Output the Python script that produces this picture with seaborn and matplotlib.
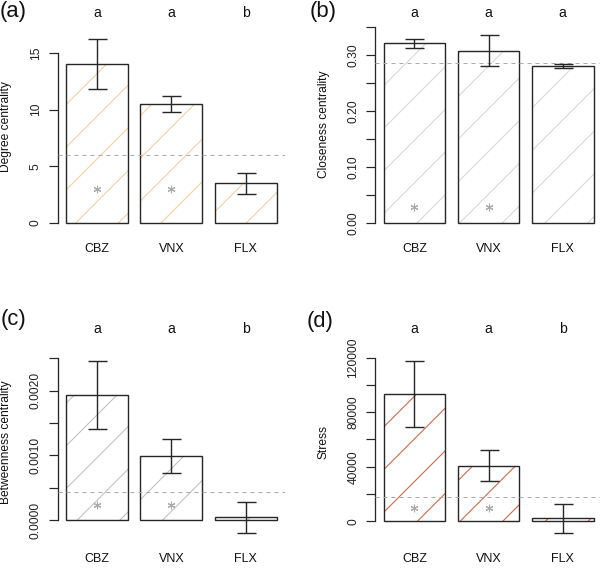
import numpy as np
import pandas as pd
import matplotlib
matplotlib.use("Agg")
import matplotlib.pyplot as plt
from matplotlib import transforms
import seaborn as sns

# ---------------- data ----------------
categories = ["CBZ", "VNX", "FLX"]

degree_mean = [14.0, 10.5, 3.5]
degree_err = [2.2, 0.67, 0.94]
degree_ref = 6.0
degree_letters = ["a", "a", "b"]
degree_star = [3.0, 3.0, np.nan]
degree_ticks = [0, 5, 10, 15]
degree_ticklabels = ["0", "5", "10", "15"]

closeness_mean = [0.321, 0.308, 0.280]
closeness_err = [0.008, 0.028, 0.004]
closeness_ref = 0.285
closeness_letters = ["a", "a", "a"]
closeness_star = [0.029, 0.029, np.nan]
closeness_ticks = [0.0, 0.05, 0.10, 0.15, 0.20, 0.25, 0.30, 0.35]
closeness_ticklabels = ["0.00", "", "0.10", "", "0.20", "", "0.30", ""]

betweenness_mean = [0.00193, 0.00099, 0.00004]
betweenness_err = [0.00053, 0.00027, 0.00024]
betweenness_ref = 0.00043
betweenness_letters = ["a", "a", "b"]
betweenness_star = [0.00023, 0.00023, np.nan]
betweenness_ticks = [0.0, 0.0005, 0.0010, 0.0015, 0.0020, 0.0025]
betweenness_ticklabels = ["0.0000", "", "0.0010", "", "0.0020", ""]

stress_mean = [93300, 40800, 2200]
stress_err = [24300, 11600, 10700]
stress_ref = 18000
stress_letters = ["a", "a", "b"]
stress_star = [9500, 9500, np.nan]
stress_ticks = [0, 20000, 40000, 60000, 80000, 100000, 120000]
stress_ticklabels = ["0", "", "40000", "", "80000", "", "120000"]

# ---------------- figure setup ----------------
DPI = 256
W, H = 600, 568
PT = 72.0 / DPI  # points per pixel


def px(v):
    return v * PT


def fy(v):
    return 1 - v / H


plt.rcParams["font.family"] = ["Liberation Sans", "DejaVu Sans"]
plt.rcParams["hatch.linewidth"] = px(1.1)

fig = plt.figure(figsize=(W / DPI, H / DPI), dpi=DPI)

panels = [
    dict(mean=degree_mean, err=degree_err, ref=degree_ref, letters=degree_letters,
         star=degree_star, ticks=degree_ticks, ticklabels=degree_ticklabels,
         ylabel="Degree centrality", tag="(a)", hatch_color="#f3d2a6",
         box=(57.6, 285.2, 25, 235), ylim=(-1.059, 17.475),
         letter_base=16.7, cat_base=252, tag_pos=(0, 16.5), ylabel_pos=(6, 126.7)),
    dict(mean=closeness_mean, err=closeness_err, ref=closeness_ref, letters=closeness_letters,
         star=closeness_star, ticks=closeness_ticks, ticklabels=closeness_ticklabels,
         ylabel="Closeness centrality", tag="(b)", hatch_color="#d9d9d9",
         box=(375.2, 602.0, 25, 235), ylim=(-0.0209, 0.3535),
         letter_base=16.7, cat_base=252, tag_pos=(310, 17.5), ylabel_pos=(324, 124)),
    dict(mean=betweenness_mean, err=betweenness_err, ref=betweenness_ref, letters=betweenness_letters,
         star=betweenness_star, ticks=betweenness_ticks, ticklabels=betweenness_ticklabels,
         ylabel="Betweenness centrality", tag="(c)", hatch_color="#c2c2c2",
         box=(57.6, 285.2, 340, 540), ylim=(-0.000309, 0.002783),
         letter_base=333.3, cat_base=562, tag_pos=(0.5, 325.5), ylabel_pos=(6, 442)),
    dict(mean=stress_mean, err=stress_err, ref=stress_ref, letters=stress_letters,
         star=stress_star, ticks=stress_ticks, ticklabels=stress_ticklabels,
         ylabel="Stress", tag="(d)", hatch_color="#d06a4a",
         box=(375.2, 602.0, 340, 540), ylim=(-13700, 132900),
         letter_base=333.3, cat_base=562, tag_pos=(306.5, 327), ylabel_pos=(324, 441.7)),
]

INK = "#262626"
BAR_W = 1 / 1.2
pos = np.arange(len(categories))

for p in panels:
    x0, x1, yt, yb = p["box"]
    ax = fig.add_axes([x0 / W, 1 - yb / H, (x1 - x0) / W, (yb - yt) / H])
    ax.set_facecolor("none")
    df = pd.DataFrame({"group": categories, "value": p["mean"]})

    # hatched fill layer
    sns.barplot(data=df, x="group", y="value", ax=ax, color="white", saturation=1,
                width=BAR_W, errorbar=None, edgecolor=p["hatch_color"], linewidth=0,
                hatch="//", zorder=1)
    # outline layer
    sns.barplot(data=df, x="group", y="value", ax=ax, fill=False, color=INK,
                width=BAR_W, errorbar=None, linewidth=px(1.4), zorder=2)

    # reference dashed line
    ax.axhline(p["ref"], color="#aaaaaa", lw=px(1.0), linestyle=(0, (4, 4)), zorder=3)

    # error bars
    ax.errorbar(pos, p["mean"], yerr=p["err"], fmt="none", ecolor=INK,
                elinewidth=px(1.4), capsize=px(9.5), capthick=px(1.4), zorder=4)

    # asterisks
    ax.plot(pos, p["star"], linestyle="none", marker=(6, 2, 0), ms=px(7.5),
            mew=px(1.1), mec="#aaaaaa", zorder=3)

    ax.set_xlim(-0.53, 2.53)
    ax.set_ylim(*p["ylim"])
    ax.set_xlabel("")
    ax.set_ylabel("")
    for s in ["top", "right", "bottom"]:
        ax.spines[s].set_visible(False)
    ax.spines["left"].set_bounds(0, p["ticks"][-1])
    ax.spines["left"].set_linewidth(px(1.3))
    ax.spines["left"].set_color(INK)
    ax.tick_params(axis="x", bottom=False, labelbottom=False)
    ax.set_yticks(p["ticks"])
    ax.set_yticklabels(p["ticklabels"])
    ax.tick_params(axis="y", length=px(9), width=px(1.2), pad=px(6.8),
                   labelsize=px(12), colors=INK, labelrotation=90)
    for lab in ax.get_yticklabels():
        lab.set_va("center")
        lab.set_color("#222222")

    blend = transforms.blended_transform_factory(ax.transData, fig.transFigure)
    for i, (cat, let) in enumerate(zip(categories, p["letters"])):
        ax.text(i, fy(p["letter_base"]), let, transform=blend, ha="center",
                va="baseline", fontsize=px(14), color="#111111", clip_on=False)
        ax.text(i, fy(p["cat_base"]), cat, transform=blend, ha="center",
                va="baseline", fontsize=px(12.6), color="#111111", clip_on=False)

    fig.text(p["tag_pos"][0] / W, fy(p["tag_pos"][1]), p["tag"], ha="left",
             va="baseline", fontsize=px(22), color="#111111")
    fig.text(p["ylabel_pos"][0] / W, fy(p["ylabel_pos"][1]), p["ylabel"],
             rotation=90, ha="center", va="center", fontsize=px(12), color="#111111")

fig.savefig("out.png", dpi=DPI)
